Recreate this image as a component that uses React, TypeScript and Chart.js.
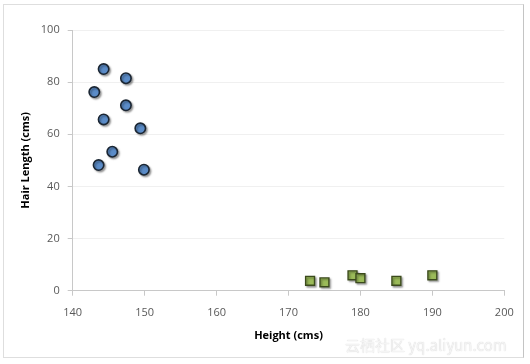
import React, { useEffect, useRef } from "react";
import { Chart, registerables } from "chart.js";

Chart.register(...registerables);

const femaleHeight = [144.3, 147.4, 143.0, 147.4, 144.3, 149.4, 145.5, 143.6, 149.9];
const femaleHair = [85.0, 81.5, 76.2, 71.1, 65.7, 62.3, 53.3, 48.2, 46.4];
const maleHeight = [173.0, 175.0, 178.9, 180.0, 185.0, 190.0];
const maleHair = [3.8, 3.2, 5.9, 4.8, 3.8, 5.9];
const xTicks = [140, 150, 160, 170, 180, 190, 200];
const yTicks = [0, 20, 40, 60, 80, 100];

const FONT = "'Open Sans', 'Liberation Sans', sans-serif";

const shadowPlugin = {
  id: "markerShadow",
  beforeDatasetsDraw(chart: any) {
    const ctx = chart.ctx;
    ctx.save();
    ctx.shadowColor = "rgba(0,0,0,0.35)";
    ctx.shadowBlur = 2;
    ctx.shadowOffsetX = 1.5;
    ctx.shadowOffsetY = 1.5;
  },
  afterDatasetsDraw(chart: any) {
    chart.ctx.restore();
  },
};

export default function App() {
  const ref = useRef<HTMLCanvasElement>(null);
  useEffect(() => {
    const canvas = ref.current!;
    const chart = new Chart(canvas, {
      type: "scatter",
      data: {
        datasets: [
          {
            label: "Female",
            data: femaleHeight.map((x, i) => ({ x, y: femaleHair[i] })),
            pointStyle: "circle",
            pointRadius: 5.2,
            backgroundColor: "#5b8cc8",
            borderColor: "#1b2633",
            borderWidth: 1.6,
          },
          {
            label: "Male",
            data: maleHeight.map((x, i) => ({ x, y: maleHair[i] })),
            pointStyle: "rect",
            pointRadius: 6.3,
            backgroundColor: "#9bbb59",
            borderColor: "#3b4a1c",
            borderWidth: 1.4,
          },
        ],
      },
      options: {
        animation: false,
        responsive: false,
        maintainAspectRatio: false,
        layout: { padding: { left: 0, top: 30, right: 25.7, bottom: 0 } },
        plugins: { legend: { display: false }, tooltip: { enabled: false } },
        scales: {
          x: {
            type: "linear",
            min: 140,
            max: 200,
            afterBuildTicks: (s: any) => {
              s.ticks = xTicks.map((v) => ({ value: v }));
            },
            afterFit: (s: any) => {
              s.height = 364 - 290.7;
            },
            border: { color: "#c8c8c8", width: 1 },
            grid: { drawOnChartArea: false, drawTicks: true, tickLength: 5, tickColor: "#c8c8c8" },
            ticks: { color: "#595959", font: { family: FONT, size: 11 }, padding: 11 },
            title: {
              display: true,
              text: "Height (cms)",
              color: "#000",
              font: { family: FONT, size: 11, weight: "bold" },
              padding: { top: 0, bottom: 21.5 },
            },
          },
          y: {
            type: "linear",
            min: 0,
            max: 100,
            afterBuildTicks: (s: any) => {
              s.ticks = yTicks.map((v) => ({ value: v }));
            },
            afterFit: (s: any) => {
              s.width = 72.7;
            },
            border: { color: "#c8c8c8", width: 1 },
            grid: { color: "#f0f0f0", tickLength: 5, tickColor: "#c8c8c8" },
            ticks: { color: "#595959", font: { family: FONT, size: 11 }, padding: 8 },
            title: {
              display: true,
              text: "Hair Length (cms)",
              color: "#000",
              font: { family: FONT, size: 11, weight: "bold" },
              padding: { top: 19, bottom: 0 },
            },
          },
        },
      },
      plugins: [shadowPlugin],
    } as any);
    return () => chart.destroy();
  }, []);

  return (
    <div style={{ position: "fixed", left: 0, top: 0, width: 530, height: 364, background: "#fff" }}>
      <div
        style={{
          position: "absolute",
          left: 3,
          top: 4,
          width: 521,
          height: 354,
          border: "1px solid #dedede",
          borderRightColor: "#c4c4c4",
          boxSizing: "border-box",
        }}
      />
      <canvas ref={ref} width={530} height={364} style={{ position: "absolute", left: 0, top: 0 }} />
      <div
        style={{
          position: "absolute",
          left: 345,
          top: 333,
          fontFamily: "'Noto Sans CJK SC', sans-serif",
          fontSize: 15,
          lineHeight: "24px",
          color: "#f4f4f4",
          textShadow: "0 0 1px #c8c8c8",
          whiteSpace: "nowrap",
        }}
      >
        云栖社区 yq.aliyun.com
      </div>
    </div>
  );
}
